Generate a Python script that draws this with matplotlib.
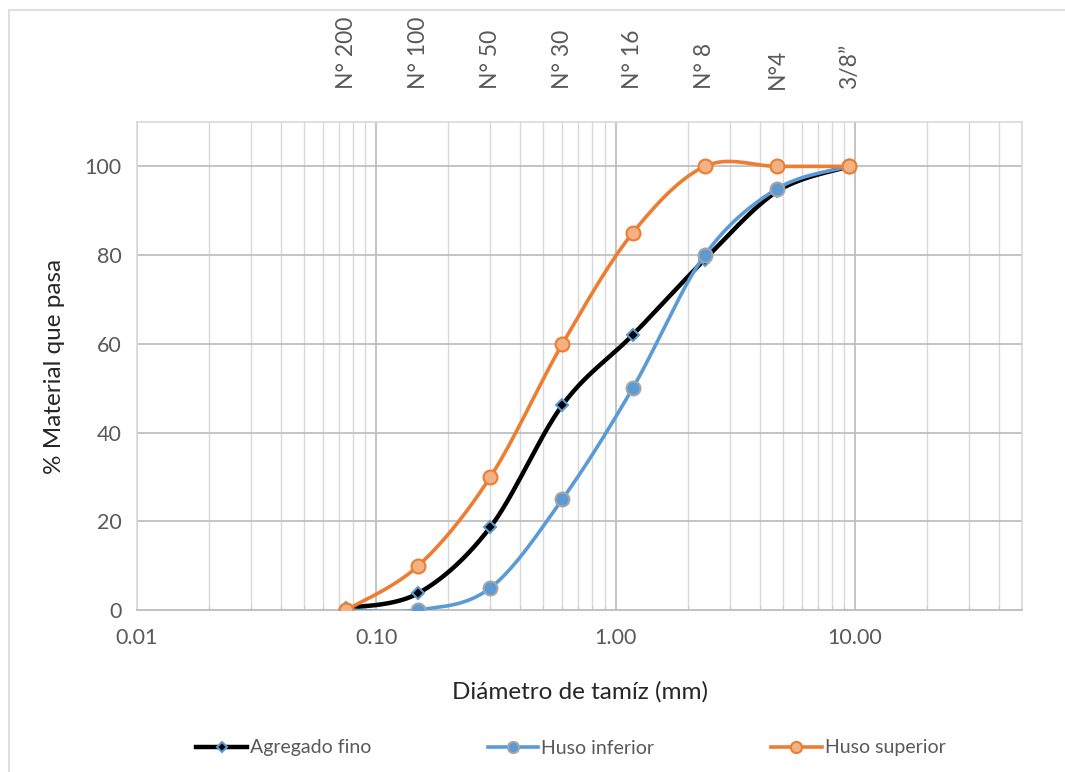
import matplotlib.pyplot as plt
import numpy as np
from matplotlib.ticker import FixedLocator, LogLocator, NullFormatter, FixedFormatter
from matplotlib.lines import Line2D
from matplotlib.patches import Rectangle

plt.rcParams['font.family'] = ['Lato', 'DejaVu Sans']

# sieve openings (mm) and names
tamiz = [0.075, 0.15, 0.3, 0.6, 1.18, 2.36, 4.75, 9.5]
nombres = ['N° 200', 'N° 100', 'N° 50', 'N° 30', 'N° 16', 'N° 8', 'N°4', '3/8”']

agregado_fino = [0.4, 3.8, 18.7, 46.2, 62.0, 79.0, 94.4, 100]
huso_inferior = [0, 0, 5, 25, 50, 80, 95, 100]
huso_superior = [0, 10, 30, 60, 85, 100, 100, 100]

x_ticks = [0.01, 0.1, 1, 10]
x_labels = ['0.01', '0.10', '1.00', '10.00']

GRIS = '#595959'


def suavizar(x, y, n=40):
    # smoothed curve (cubic Bezier, Catmull-Rom control points) in log-x space
    lx = np.log10(np.asarray(x, float))
    yy = np.asarray(y, float)
    P = np.column_stack([lx, yy])
    P = np.vstack([P[0], P, P[-1]])
    out = []
    t = np.linspace(0, 1, n)[:, None]
    for i in range(1, len(P) - 2):
        p0, p3 = P[i], P[i + 1]
        c1 = p0 + (P[i + 1] - P[i - 1]) / 6
        c2 = p3 - (P[i + 2] - P[i]) / 6
        seg = ((1 - t) ** 3) * p0 + 3 * ((1 - t) ** 2) * t * c1 + 3 * (1 - t) * t ** 2 * c2 + t ** 3 * p3
        out.append(seg if i == 1 else seg[1:])
    out = np.vstack(out)
    return 10 ** out[:, 0], out[:, 1]


fig = plt.figure(figsize=(10.65, 7.72), dpi=100)
ax = fig.add_axes([137 / 1065, 1 - 610 / 772, (1022 - 137) / 1065, (610 - 122) / 772])

fig.patches.append(Rectangle((9 / 1065, -0.1), 1.2, 1 - 10 / 772 + 0.1,
                             transform=fig.transFigure, fill=False,
                             edgecolor='#d9d9d9', lw=1.2))

ax.set_xscale('log')
ax.set_xlim(0.01, 50)
ax.set_ylim(0, 110)

series = [
    (agregado_fino, 'Agregado fino', 'black', dict(marker='D', ms=6, mfc='black', mec='#5b9bd5', mew=1.5)),
    (huso_inferior, 'Huso inferior', '#5b9bd5', dict(marker='o', ms=10, mfc='#5b9bd5', mec='#a5a5a5', mew=1.5)),
    (huso_superior, 'Huso superior', '#ed7d31', dict(marker='o', ms=10, mfc='#f4b183', mec='#ed7d31', mew=1.5)),
]

handles = []
for vals, nombre, color, mk in series:
    xs, ys = suavizar(tamiz, vals)
    lw = 3.2 if color == 'black' else 2.6
    ax.plot(xs, ys, color=color, lw=lw, zorder=3, solid_capstyle='round')
    ax.plot(tamiz, vals, ls='none', zorder=4, **mk)
    handles.append(Line2D([0], [0], color=color, lw=lw, label=nombre, **dict(mk, ms=mk['ms'] * 0.8)))

# grid
ax.xaxis.set_major_locator(FixedLocator(x_ticks))
ax.xaxis.set_major_formatter(FixedFormatter(x_labels))
ax.xaxis.set_minor_locator(LogLocator(base=10, subs=np.arange(2, 10)))
ax.xaxis.set_minor_formatter(NullFormatter())
ax.set_yticks(range(0, 101, 20))
ax.grid(which='major', axis='both', color='#bfbfbf', lw=1.3, zorder=0)
ax.grid(which='minor', axis='x', color='#d9d9d9', lw=1.0, zorder=0)
ax.set_axisbelow(True)

for s in ['top', 'right', 'left']:
    ax.spines[s].set_color('#d9d9d9')
    ax.spines[s].set_linewidth(1.2)
ax.spines['bottom'].set_color('#bfbfbf')
ax.spines['bottom'].set_linewidth(1.3)

ax.tick_params(axis='x', which='major', length=0, pad=13, labelsize=15.5, labelcolor=GRIS)
ax.tick_params(axis='x', which='minor', length=3, color='#bfbfbf', direction='in')
ax.tick_params(axis='y', length=0, pad=11, labelsize=15.5, labelcolor=GRIS)

ax.set_ylabel('% Material que pasa', fontsize=17.5, color='#262626', labelpad=14)
ax.set_xlabel('Diámetro de tamíz (mm)', fontsize=17.5, color='#262626', labelpad=24)

# sieve names on top
sec = ax.secondary_xaxis('top')
sec.xaxis.set_major_locator(FixedLocator(tamiz))
sec.xaxis.set_major_formatter(FixedFormatter(nombres))
sec.xaxis.set_minor_locator(FixedLocator([]))
sec.tick_params(axis='x', length=0, pad=24, labelsize=16.5, labelcolor=GRIS, labelrotation=90)
sec.spines['top'].set_visible(False)

fig.legend(handles=handles, loc='center', bbox_to_anchor=(0.536, 1 - 748 / 772), ncol=3,
           frameon=False, fontsize=14, labelcolor=GRIS, handlelength=2.6,
           columnspacing=6.0, handletextpad=0.15)

fig.savefig('out.png', dpi=100)
